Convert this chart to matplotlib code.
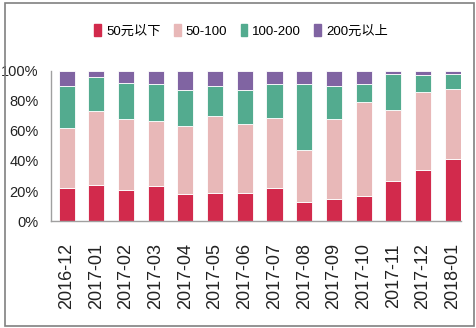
import numpy as np
import matplotlib
matplotlib.use("Agg")
import matplotlib.pyplot as plt
from matplotlib.patches import Rectangle

plt.rcParams['font.family'] = ['Liberation Sans', 'Noto Sans CJK SC', 'DejaVu Sans']

# months on the x axis
months = ["2016-12", "2017-01", "2017-02", "2017-03", "2017-04", "2017-05", "2017-06",
          "2017-07", "2017-08", "2017-09", "2017-10", "2017-11", "2017-12", "2018-01"]

# share of each price band (fractions)
below_50 = [0.22, 0.24, 0.21, 0.235, 0.18, 0.19, 0.19, 0.22, 0.127, 0.15, 0.17, 0.267, 0.34, 0.415]
band_50_100 = [0.40, 0.49, 0.47, 0.43, 0.45, 0.51, 0.455, 0.467, 0.343, 0.53, 0.62, 0.473, 0.52, 0.465]
band_100_200 = [0.28, 0.23, 0.24, 0.245, 0.24, 0.20, 0.225, 0.223, 0.44, 0.22, 0.12, 0.24, 0.11, 0.10]
above_200 = [1 - a - b - c for a, b, c in zip(below_50, band_50_100, band_100_200)]

labels = ["50元以下", "50-100", "100-200", "200元以上"]
colors = ["#D22A4C", "#E8B8B8", "#53AB8F", "#8064A2"]

fig = plt.figure(figsize=(4.76, 3.28), dpi=100)
ax = fig.add_axes([0.107, 0.326, 0.862, 0.458])

x = np.arange(len(months))
series = [below_50, band_50_100, band_100_200, above_200]
bottom = np.zeros(len(months))
handles = []
for vals, col, lab in zip(series, colors, labels):
    ax.bar(x, vals, width=0.54, bottom=bottom, color=col, label=lab,
           edgecolor="white", linewidth=0.6)
    handles.append(Rectangle((0, 0), 1, 1, color=col))
    bottom += np.array(vals)

ax.set_ylim(0, 1)
ax.set_xlim(-0.53, 13.29)
ax.set_yticks([0, 0.2, 0.4, 0.6, 0.8, 1.0])
ax.set_yticklabels(["0%", "20%", "40%", "60%", "80%", "100%"], fontsize=10.5)
ax.set_xticks(x)
ax.set_xticklabels(months, rotation=90, fontsize=13)
ax.tick_params(axis="both", length=0, colors="#222222")
ax.tick_params(axis="x", pad=16)
ax.tick_params(axis="y", pad=9)
for s in ["top", "right"]:
    ax.spines[s].set_visible(False)
for s in ["left", "bottom"]:
    ax.spines[s].set_color("#A0A0A0")
    ax.spines[s].set_linewidth(1.0)

fig.legend(handles, labels, loc="center", bbox_to_anchor=(0.507, 0.905), ncol=4,
           frameon=False, fontsize=9.5, handlelength=0.5, handleheight=1.0,
           handletextpad=0.4, columnspacing=1.0)

# outer frame of the picture
fig.patches.append(Rectangle((0.011, 0.006), 0.984, 0.985, transform=fig.transFigure,
                             fill=False, edgecolor="#808080", linewidth=1.2))

fig.savefig("out.png", dpi=100)
